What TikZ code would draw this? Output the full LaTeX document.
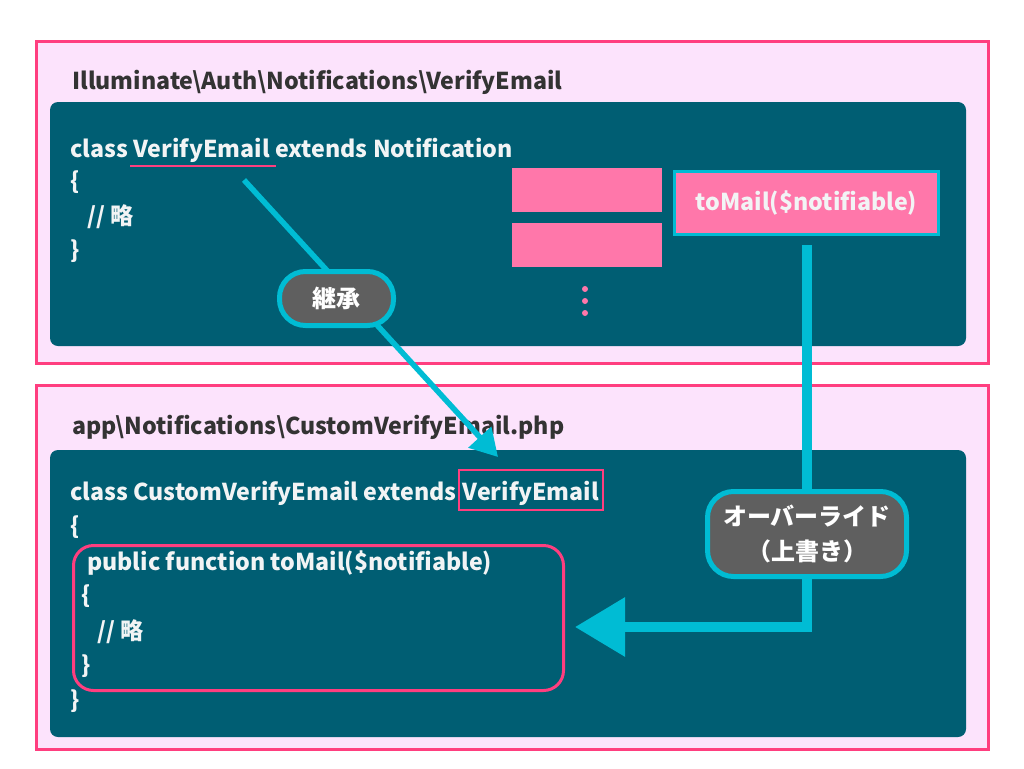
\documentclass[tikz,border=0pt]{standalone}
\usepackage{fontspec}
\setmainfont{Noto Sans CJK JP}
\usetikzlibrary{positioning,arrows.meta}
\definecolor{pagepink}{HTML}{FCE3FC}
\definecolor{framepink}{HTML}{FF3E7F}
\definecolor{methodpink}{HTML}{FF77AA}
\definecolor{codeteal}{HTML}{005E73}
\definecolor{linkcyan}{HTML}{00BCD4}
\definecolor{pillgray}{HTML}{5F5F5F}
\definecolor{titlegray}{HTML}{333333}
\definecolor{codewhite}{HTML}{F2F4F5}
\tikzset{
	txt/.style={font=\fontsize{24}{35}\selectfont\bfseries},
	codetxt/.style={font=\fontsize{23.2}{35}\selectfont\bfseries},
	code/.style={codetxt, anchor=base west, inner sep=0pt, text=codewhite},
	title/.style={codetxt, anchor=base west, inner sep=0pt, text=titlegray},
	frame/.style={draw=framepink, line width=3pt, fill=pagepink},
	panel/.style={fill=codeteal, rounded corners=8pt},
	pill/.style={txt, draw=linkcyan, line width=5pt, fill=pillgray, text=white, align=center},
	link/.style={draw=linkcyan},
}
\begin{document}
\begin{tikzpicture}[x=1pt, y=-1pt]
	\useasboundingbox (0,0) rectangle (1024,768);
	\fill[white] (0,0) rectangle (1024,768);
	% parent class
	\draw[frame] (36,41.5) rectangle (988,363.5);
	\fill[panel] (50,102) rectangle (966,346);
	\node[title] (ttlA) at (72,89) {Illuminate\textbackslash Auth\textbackslash Notifications\textbackslash VerifyEmail};
	\node[code] (clsA) at (70,157) {class};
	\node[code, base right=5pt of clsA] (nameA) {VerifyEmail};
	\node[code, base right=5pt of nameA] (extA) {extends Notification};
	\draw[framepink, line width=2pt] ([xshift=-3pt, yshift=-9pt]nameA.base west) -- ([xshift=6pt, yshift=-9pt]nameA.base east);
	\node[code] (openA) at (70,189) {\{};
	\node[code] (noteA) at (87,224) {// 略};
	\node[code] (closeA) at (70,258) {\}};
	\fill[methodpink] (512,168) rectangle (662,212);
	\fill[methodpink] (512,223) rectangle (662,267);
	\foreach \y in {289,301,313}
		\fill[methodpink] (585,\y) circle (3pt);
	\node[codetxt, draw=linkcyan, line width=3pt, fill=methodpink, text=codewhite, minimum width=264pt, minimum height=63pt] (tomail) at (806.5,203) {toMail(\$notifiable)};
	% child class
	\draw[frame] (36,385.5) rectangle (988,749.5);
	\fill[panel] (50,450) rectangle (966,737);
	\node[title] (ttlB) at (72,434) {app\textbackslash Notifications\textbackslash CustomVerifyEmail.php};
	\node[code] (clsB) at (70,500) {class CustomVerifyEmail extends};
	\node[code, draw=framepink, line width=2pt, inner xsep=4pt, inner ysep=4pt, text height=26pt, text depth=6pt, base right=1pt of clsB] (parent) {VerifyEmail};
	\node[code] (openB) at (70,534) {\{};
	\draw[framepink, line width=3pt, rounded corners=20pt] (73.5,545.5) rectangle (563.5,690.5);
	\node[code] (func) at (87,570) {public function toMail(\$notifiable)};
	\node[code] (openC) at (81,603) {\{};
	\node[code] (noteC) at (97,639) {// 略};
	\node[code] (closeC) at (81,673) {\}};
	\node[code] (closeB) at (70,708) {\}};
	% connectors
	\coordinate (inhFrom) at (244,180);
	\coordinate (inhTo) at (498,457);
	\draw[link, line width=5.5pt, -{Triangle[length=27pt, width=30pt]}] (inhFrom) -- (inhTo);
	\coordinate (bend) at (807,627);
	\coordinate (ovrTo) at (575,627);
	\draw[link, line width=9.5pt, -{Triangle[length=50pt, width=57pt]}] ([xshift=0.5pt, yshift=-9pt]tomail.south) -- (bend) -- (ovrTo);
	\node[pill, minimum width=114pt, minimum height=54pt, rounded corners=26pt] (inherit) at (336.5,298.5) {継承};
	\node[pill, minimum width=199pt, minimum height=85pt, rounded corners=26pt] (override) at (807,534) {オーバーライド\\（上書き）};
\end{tikzpicture}
\end{document}
